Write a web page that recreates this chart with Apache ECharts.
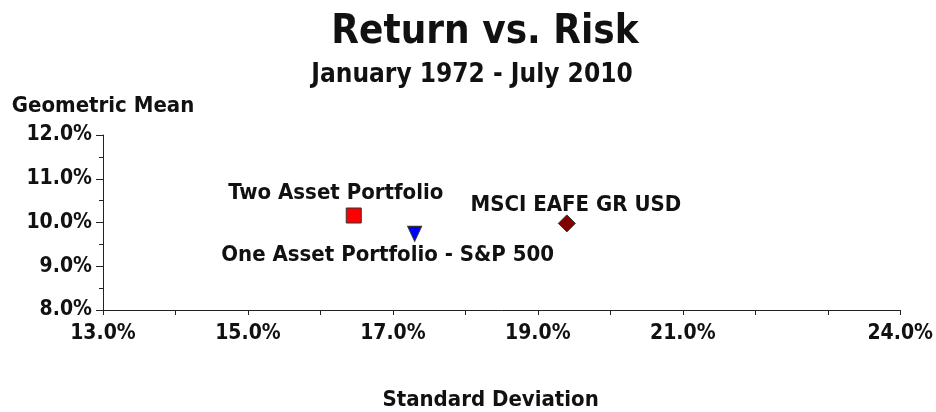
<!DOCTYPE html>
<html>
<head>
<meta charset="utf-8">
<script src="https://cdn.jsdelivr.net/npm/echarts@6/dist/echarts.min.js"></script>
<style>
  html, body { margin: 0; padding: 0; background: #fff; }
  #chart { width: 936px; height: 412px; }
</style>
</head>
<body>
<div id="chart"></div>
<script>
// values
const names = ["Two Asset Portfolio", "One Asset Portfolio - S&P 500", "MSCI EAFE GR USD"];
const stdDev = [16.46, 17.30, 19.40];
const geoMean = [10.16, 9.74, 9.98];
const xTickLabels = [13, 15, 17, 19, 21, 24];
const yTickLabels = [8, 9, 10, 11, 12];

const FONT = "DejaVu Sans Condensed";

// marker look per series
const markers = [
  { symbol: "rect", size: 15, rotate: 0, color: "#ff0000", offset: [-18, -22] },
  { symbol: "triangle", size: [14, 15], rotate: 180, color: "#0000ff", offset: [-27, 21] },
  { symbol: "diamond", size: 17, rotate: 0, color: "#800000", offset: [9, -18] },
];

const chart = echarts.init(document.getElementById("chart"));

const option = {
  animation: false,
  title: [
    {
      text: "Return vs. Risk",
      left: 480,
      top: 8,
      textAlign: "center",
      textStyle: { fontFamily: FONT, fontSize: 40, fontWeight: "bold", color: "#111" },
    },
    {
      text: "January 1972 - July 2010",
      left: 467,
      top: 57,
      textAlign: "center",
      textStyle: { fontFamily: FONT, fontSize: 26, fontWeight: "bold", color: "#111" },
    },
  ],
  grid: { left: 103, right: 33, top: 135, bottom: 102 },
  xAxis: {
    type: "value",
    min: 13,
    max: 24,
    interval: 1,
    name: "Standard Deviation",
    nameLocation: "middle",
    nameGap: 79,
    nameTextStyle: {
      fontFamily: FONT, fontSize: 22, fontWeight: "bold", color: "#111",
      padding: [0, 22, 0, 0],
    },
    axisLine: { show: true, onZero: false, lineStyle: { color: "#222", width: 1 } },
    axisTick: { show: true, length: 5, lineStyle: { color: "#222" } },
    splitLine: { show: false },
    axisLabel: {
      margin: 13,
      fontFamily: FONT, fontSize: 21, fontWeight: "bold", color: "#111",
      showMinLabel: true, showMaxLabel: true,
      formatter: (v) => (xTickLabels.includes(v) ? v.toFixed(1) + "%" : ""),
    },
  },
  yAxis: {
    type: "value",
    min: 8,
    max: 12,
    interval: 1,
    name: "Geometric Mean",
    nameLocation: "end",
    nameGap: 18,
    nameTextStyle: { fontFamily: FONT, fontSize: 22, fontWeight: "bold", color: "#111" },
    axisLine: { show: true, onZero: false, lineStyle: { color: "#222", width: 1 } },
    axisTick: { show: true, length: 7, lineStyle: { color: "#222" } },
    minorTick: { show: true, splitNumber: 2, length: 4, lineStyle: { color: "#222" } },
    splitLine: { show: false },
    axisLabel: {
      margin: 11,
      fontFamily: FONT, fontSize: 21, fontWeight: "bold", color: "#111",
      formatter: (v) => (yTickLabels.includes(v) ? v.toFixed(1) + "%" : ""),
    },
  },
  series: names.map((n, i) => ({
    name: n,
    type: "scatter",
    data: [[stdDev[i], geoMean[i]]],
    symbol: markers[i].symbol,
    symbolSize: markers[i].size,
    symbolRotate: markers[i].rotate,
    itemStyle: { color: markers[i].color, borderColor: "#333", borderWidth: 1, opacity: 1 },
    label: {
      show: true,
      position: "inside",
      offset: markers[i].offset,
      formatter: n,
      fontFamily: FONT, fontSize: 22, fontWeight: "bold", color: "#111",
    },
  })),
};

chart.setOption(option);
</script>
</body>
</html>
